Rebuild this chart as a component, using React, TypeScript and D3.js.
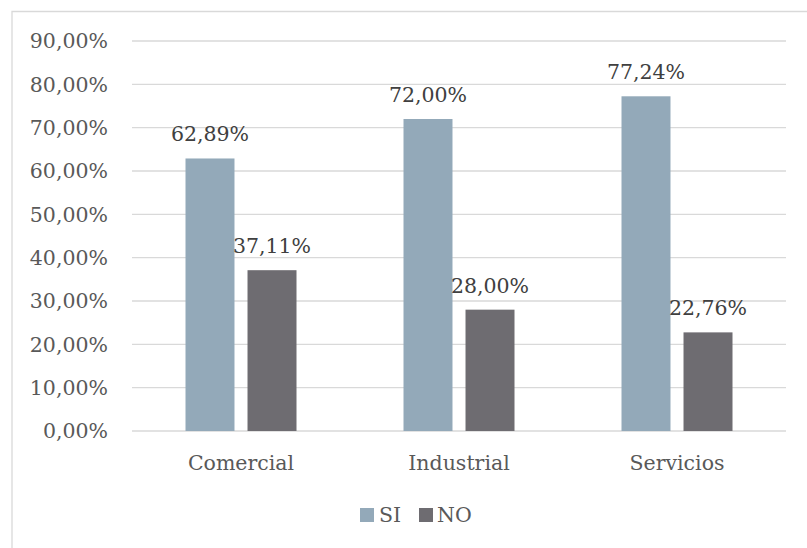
import React from "react";
import * as d3 from "d3";

const categories = ["Comercial", "Industrial", "Servicios"];
const seriesNames = ["SI", "NO"];
const siValues = [62.89, 72.0, 77.24];
const noValues = [37.11, 28.0, 22.76];
const yTicks = [0, 10, 20, 30, 40, 50, 60, 70, 80, 90];

const colors: Record<string, string> = { SI: "#93A9B9", NO: "#6E6C71" };
const FONT = "'DejaVu Serif', serif";
const fmt = (v: number) => v.toFixed(2).replace(".", ",") + "%";

export default function App() {
  const W = 807;
  const H = 548;
  const x0 = d3.scaleBand<string>().domain(categories).range([132, 786]);
  const x1 = d3.scaleBand<string>().domain(seriesNames).range([-55.5, 55.5]).paddingInner(0.21);
  const y = d3.scaleLinear().domain([0, 90]).range([431, 41]);

  const rows = categories.map((c, i) => ({ c, SI: siValues[i], NO: noValues[i] }));

  return (
    <svg width={W} height={H} style={{ position: "absolute", left: 0, top: 0 }} fontFamily={FONT}>
      <rect x={0} y={0} width={W} height={H} fill="#ffffff" />
      {/* chart frame */}
      <path d={`M12,${H + 2} L12,11.5 L${W + 2},11.5`} fill="none" stroke="#D9D9D9" strokeWidth={1.3} />
      {/* gridlines */}
      {yTicks.map((t) => (
        <line key={"g" + t} x1={132} x2={786} y1={y(t)} y2={y(t)} stroke="#D9D9D9" strokeWidth={1.3} />
      ))}
      {/* y labels */}
      {yTicks.map((t) => (
        <text key={"l" + t} x={108} y={y(t)} dy="0.36em" textAnchor="end" fontSize={20.5} fill="#595959">
          {fmt(t)}
        </text>
      ))}
      {/* bars */}
      {rows.map((r) => (
        <g key={r.c} transform={`translate(${(x0(r.c) ?? 0) + x0.bandwidth() / 2},0)`}>
          {seriesNames.map((s) => {
            const v = (r as any)[s] as number;
            const bx = x1(s) ?? 0;
            return (
              <g key={s}>
                <rect x={bx} y={y(v)} width={x1.bandwidth()} height={y(0) - y(v)} fill={colors[s]} />
                <text
                  x={bx + x1.bandwidth() / 2}
                  y={y(v) - 17}
                  textAnchor="middle"
                  fontSize={20.5}
                  fill="#404040"
                >
                  {fmt(v)}
                </text>
              </g>
            );
          })}
          <text x={0} y={463} dy="0.36em" textAnchor="middle" fontSize={20.5} fill="#595959">
            {r.c}
          </text>
        </g>
      ))}
      {/* legend */}
      <g>
        <rect x={360} y={508} width={14} height={14} fill={colors.SI} />
        <text x={379} y={515} dy="0.36em" fontSize={20.5} fill="#595959">SI</text>
        <rect x={419} y={508} width={14} height={14} fill={colors.NO} />
        <text x={437} y={515} dy="0.36em" fontSize={20.5} fill="#595959">NO</text>
      </g>
    </svg>
  );
}
